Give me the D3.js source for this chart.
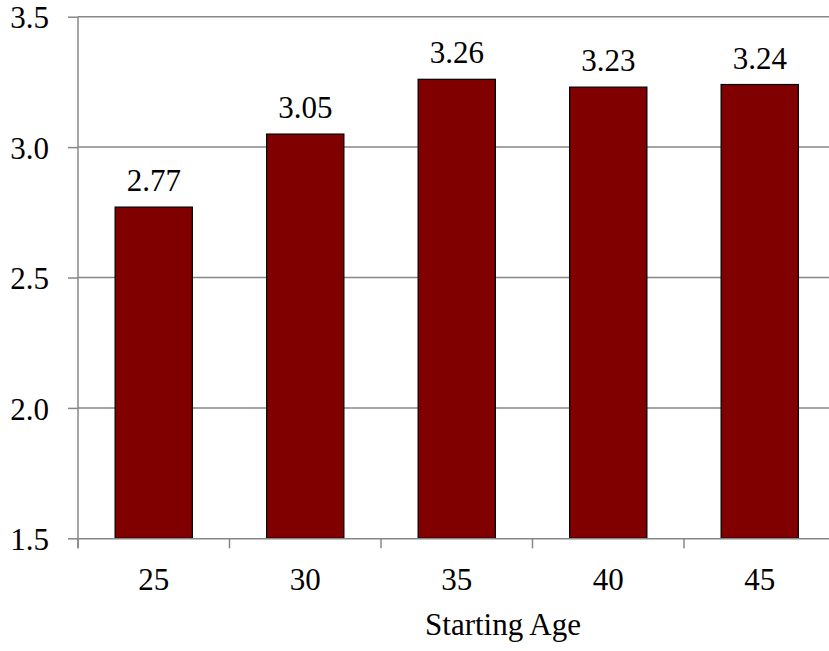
<!DOCTYPE html>
<html><head><meta charset="utf-8">
<script src="https://cdn.jsdelivr.net/npm/d3@7"></script>
<style>html,body{margin:0;padding:0;background:#fff;}</style>
</head><body>
<svg id="c" width="829" height="651"></svg>
<script>
const categories = ["25","30","35","40","45"];
const values = [2.77, 3.05, 3.26, 3.23, 3.24];
const yTicks = [1.5, 2.0, 2.5, 3.0, 3.5];
const xTitle = "Starting Age";

(function () {
const svg = d3.select("#c");
const font = "Times New Roman, Liberation Serif, Tinos, DejaVu Serif, serif";
const mLeft = 78, step = 151.5, mTop = 16.7, mBottom = 538.3;
const mRight = mLeft + step * categories.length;
const x = d3.scaleBand().domain(categories).range([mLeft, mRight]).paddingInner(0.49).paddingOuter(0.245);
const y = d3.scaleLinear().domain([1.5, 3.5]).range([mBottom, mTop]);
const grey = "#878787";

svg.append("g").selectAll("line").data(yTicks.filter(d => d > 1.5)).join("line")
  .attr("x1", mLeft).attr("x2", mRight).attr("y1", d => y(d)).attr("y2", d => y(d))
  .attr("stroke", grey).attr("stroke-width", 1.5);

svg.append("g").selectAll("rect").data(values).join("rect")
  .attr("x", (d, i) => x(categories[i]))
  .attr("width", x.bandwidth())
  .attr("y", d => y(d))
  .attr("height", d => y(1.5) - y(d))
  .attr("fill", "#800000").attr("stroke", "#000").attr("stroke-width", 1.2);

svg.append("g").selectAll("text").data(values).join("text")
  .attr("x", (d, i) => x(categories[i]) + x.bandwidth() / 2)
  .attr("y", d => y(d) - 16)
  .attr("text-anchor", "middle")
  .attr("font-family", font).attr("font-size", 31).attr("fill", "#000")
  .text(d => d.toFixed(2));

const yAxis = d3.axisLeft(y).tickValues(yTicks).tickFormat(d3.format(".1f")).tickSize(10).tickPadding(19);
const gy = svg.append("g").attr("transform", `translate(${mLeft},0)`).call(yAxis);
gy.attr("font-family", font).attr("font-size", 31);
gy.select(".domain").attr("stroke", grey).attr("stroke-width", 1.5).attr("d", `M0,${mTop}V${mBottom + 10}`);
gy.selectAll(".tick line").attr("stroke", grey).attr("stroke-width", 1.5);
gy.selectAll(".tick text").attr("fill", "#000").attr("dy", "0.36em");

const xAxis = d3.axisBottom(x).tickSize(0).tickPadding(30);
const gx = svg.append("g").attr("transform", `translate(0,${mBottom})`).call(xAxis);
gx.attr("font-family", font).attr("font-size", 31);
gx.select(".domain").attr("stroke", grey).attr("stroke-width", 1.5);
gx.selectAll(".tick text").attr("fill", "#000");
gx.append("g").selectAll("line").data(d3.range(categories.length + 1)).join("line")
  .attr("x1", i => mLeft + i * step).attr("x2", i => mLeft + i * step)
  .attr("y1", 0).attr("y2", 10).attr("stroke", grey).attr("stroke-width", 1.5);

svg.append("text").attr("x", 503).attr("y", 635).attr("text-anchor", "middle")
  .attr("font-family", font).attr("font-size", 31).attr("fill", "#000").text(xTitle);
})();
</script>
</body></html>
